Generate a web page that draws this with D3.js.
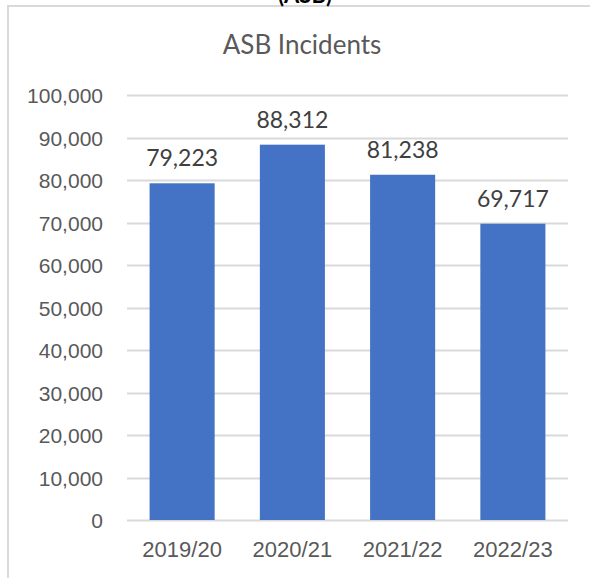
<!DOCTYPE html>
<html lang="en">
<head>
    <meta charset="UTF-8">
    <title>ASB Incidents</title>
    <style>
        body {
            margin: 0;
            background: #fff;
            font-family: Lato, "Open Sans", sans-serif;
        }
        .tick text {
            fill: #595959;
        }
    </style>
</head>
<body>
    <script src="https://d3js.org/d3.v7.min.js"></script>
    <script>
        const years = ["2019/20", "2020/21", "2021/22", "2022/23"];
        const incidents = [79223, 88312, 81238, 69717];
        const yTicks = [0, 10000, 20000, 30000, 40000, 50000, 60000, 70000, 80000, 90000, 100000];

        const width = 590;
        const height = 578;
        const plot = { left: 127, right: 568, top: 95, bottom: 520 };

        const svg = d3.select("body")
            .append("svg")
            .attr("width", width)
            .attr("height", height);

        // chart frame (right and bottom edges are off the picture)
        svg.append("path")
            .attr("d", `M8,${height + 2} V6 H${width + 2}`)
            .attr("fill", "none")
            .attr("stroke", "#d9d9d9")
            .attr("stroke-width", 2);

        // clipped heading above the frame
        svg.append("text")
            .attr("x", 305)
            .attr("y", 3)
            .attr("text-anchor", "middle")
            .style("font-size", "22px")
            .style("font-weight", "bold")
            .attr("fill", "#000")
            .text("(ASB)");

        svg.append("text")
            .attr("x", 302)
            .attr("y", 54)
            .attr("text-anchor", "middle")
            .attr("fill", "#595959")
            .style("font-size", "26px")
            .text("ASB Incidents");

        const x = d3.scaleBand()
            .domain(years)
            .range([plot.left, plot.right])
            .paddingInner(0.41)
            .paddingOuter(0.205);

        const y = d3.scaleLinear()
            .domain([0, 100000])
            .range([plot.bottom, plot.top]);

        // gridlines
        svg.append("g")
            .selectAll("line")
            .data(yTicks)
            .enter()
            .append("line")
            .attr("x1", plot.left)
            .attr("x2", plot.right)
            .attr("y1", d => Math.round(y(d)) + 0.5)
            .attr("y2", d => Math.round(y(d)) + 0.5)
            .attr("stroke", "#d9d9d9")
            .attr("stroke-width", 2);

        const yAxis = svg.append("g")
            .attr("transform", `translate(${plot.left - 24},0)`)
            .call(d3.axisLeft(y).tickValues(yTicks).tickSize(0).tickPadding(0).tickFormat(d3.format(",")));
        yAxis.select(".domain").remove();
        yAxis.selectAll(".tick text").attr("dy", "0.36em").style("font-size", "21px");

        svg.selectAll(".bar")
            .data(incidents)
            .enter()
            .append("rect")
            .attr("class", "bar")
            .attr("x", (d, i) => x(years[i]))
            .attr("y", d => y(d))
            .attr("width", x.bandwidth())
            .attr("height", d => y(0) - y(d))
            .attr("fill", "#4472c4");

        svg.selectAll(".label")
            .data(incidents)
            .enter()
            .append("text")
            .attr("class", "label")
            .attr("x", (d, i) => x(years[i]) + x.bandwidth() / 2)
            .attr("y", d => y(d) - 17)
            .attr("text-anchor", "middle")
            .attr("fill", "#404040")
            .style("font-size", "23px")
            .text(d => d3.format(",")(d));

        const xAxis = svg.append("g")
            .attr("transform", `translate(0,${plot.bottom})`)
            .call(d3.axisBottom(x).tickSize(0).tickPadding(21));
        xAxis.select(".domain").remove();
        xAxis.selectAll(".tick text").style("font-size", "22px");
    </script>
</body>
</html>
